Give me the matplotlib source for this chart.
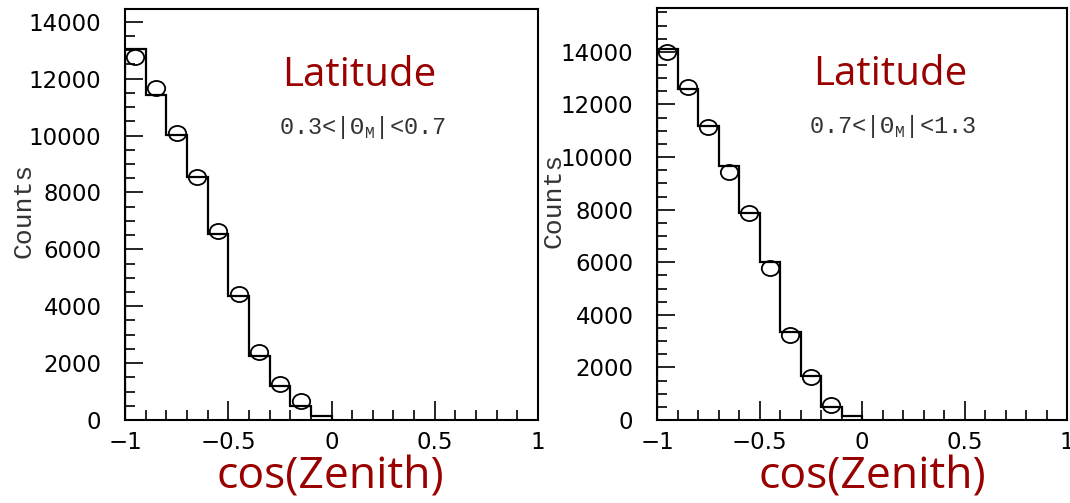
import numpy as np
import matplotlib
matplotlib.use("Agg")
import matplotlib.pyplot as plt
from matplotlib.path import Path
from matplotlib.transforms import Affine2D
from matplotlib.ticker import MultipleLocator, FixedLocator, FixedFormatter

# cos(zenith) binning, 0.1 wide from -1 to 0
BIN_EDGES = [-1.0, -0.9, -0.8, -0.7, -0.6, -0.5, -0.4, -0.3, -0.2, -0.1, 0.0]
POINT_X = [-0.95, -0.85, -0.75, -0.65, -0.55, -0.45, -0.35, -0.25, -0.15]

# latitude band 0.3 < |theta_M| < 0.7
LOW_HIST = [13050, 11440, 10035, 8526, 6526, 4350, 2250, 1190, 490, 150]
LOW_POINTS = [12770, 11680, 10100, 8560, 6630, 4420, 2390, 1260, 670]

# latitude band 0.7 < |theta_M| < 1.3
HIGH_HIST = [14110, 12590, 11180, 9660, 7870, 6010, 3350, 1670, 490, 150]
HIGH_POINTS = [14000, 12670, 11140, 9430, 7870, 5780, 3230, 1640, 570]

X_TICKS = [-1, -0.5, 0, 0.5, 1]
X_TICK_LABELS = ["\u22121", "\u22120.5", "0", "0.5", "1"]
Y_TICKS = [0, 2000, 4000, 6000, 8000, 10000, 12000, 14000]
Y_TICK_LABELS = [str(v) for v in Y_TICKS]

RED = "#990000"
W, H = 1070, 503

# slightly wide circle for the data points
ellipse = Path.unit_circle().transformed(Affine2D().scale(1.15, 1.0))


def draw_panel(ax, hist, points, ymax, band):
    ax.stairs(hist, BIN_EDGES, color="black", lw=1.6, baseline=0)
    ax.plot(POINT_X, points, linestyle="none", marker=ellipse, ms=12.5,
            mfc="none", mec="black", mew=1.3)

    ax.set_xlim(-1, 1)
    ax.set_ylim(0, ymax)
    ax.xaxis.set_major_locator(FixedLocator(X_TICKS))
    ax.xaxis.set_major_formatter(FixedFormatter(X_TICK_LABELS))
    ax.xaxis.set_minor_locator(MultipleLocator(0.1))
    ax.yaxis.set_major_locator(FixedLocator(Y_TICKS))
    ax.yaxis.set_major_formatter(FixedFormatter(Y_TICK_LABELS))
    ax.yaxis.set_minor_locator(MultipleLocator(500))

    ax.tick_params(axis="both", which="both", direction="in", width=1.2,
                   top=False, right=False, labelsize=16.5, colors="black")
    ax.tick_params(axis="x", which="major", length=14, pad=8)
    ax.tick_params(axis="x", which="minor", length=7)
    ax.tick_params(axis="y", which="major", length=13, pad=17)
    ax.tick_params(axis="y", which="minor", length=7)
    for sp in ax.spines.values():
        sp.set_linewidth(1.5)

    ax.text(0.568, 0.813, "Latitude", transform=ax.transAxes, ha="center",
            va="baseline", color=RED, fontsize=29, family="Open Sans")
    ax.text(0.575, 0.697, band, transform=ax.transAxes, ha="center",
            va="baseline", color="#333333", fontsize=17,
            family=["Liberation Mono", "DejaVu Sans Mono"])


fig = plt.figure(figsize=(W / 100, H / 100), dpi=100)
ax1 = fig.add_axes([125 / W, 1 - 420 / H, 413 / W, 411 / H])
ax2 = fig.add_axes([657 / W, 1 - 420 / H, 410 / W, 412 / H])

draw_panel(ax1, LOW_HIST, LOW_POINTS, 14450,
           "0.3<|\u0398$_\\mathregular{M}$|<0.7")
draw_panel(ax2, HIGH_HIST, HIGH_POINTS, 15670,
           "0.7<|\u0398$_\\mathregular{M}$|<1.3")

# axis titles
for x, y in [(24, 210), (554, 200)]:
    fig.text(x / W, 1 - y / H, "Counts", rotation=90, ha="center",
             va="center", fontsize=19, color="#333333",
             family=["Liberation Mono", "DejaVu Sans Mono"])
for x in [330, 872]:
    fig.text(x / W, 1 - 489 / H, "cos(Zenith)", ha="center", va="baseline",
             color=RED, fontsize=32, family="Open Sans")

fig.savefig("out.png", dpi=100, facecolor="white")
